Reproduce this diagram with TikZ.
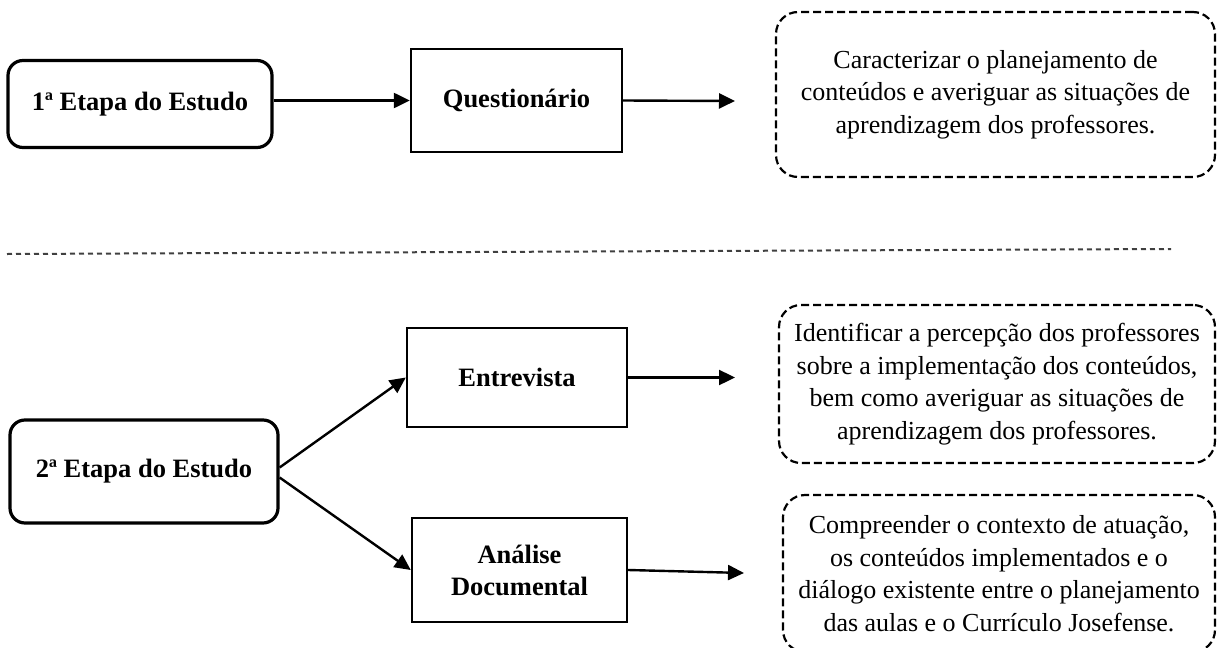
\documentclass[tikz,border=0pt]{standalone}
\usepackage{fontspec}
\setmainfont{Liberation Serif}
\usetikzlibrary{arrows.meta,calc}
\begin{document}
\begin{tikzpicture}[x=1pt,y=-1pt,
  stage/.style={draw, line width=3.2pt, rounded corners=15pt, inner sep=0pt,
    font=\fontsize{26.5}{32}\selectfont\bfseries, align=center},
  method/.style={draw, line width=2.4pt, inner sep=0pt,
    font=\fontsize{26.5}{32}\selectfont\bfseries, align=center},
  goal/.style={draw, line width=2.2pt, dash pattern=on 8pt off 4pt,
    rounded corners=22pt, inner sep=0pt,
    font=\fontsize{26}{32.5}\selectfont, align=center},
  flow/.style={line width=2.4pt, -{Triangle[length=16pt,width=15pt]}},
  divider/.style={line width=2pt, draw=black!75, dash pattern=on 5pt off 4pt}]

\clip (0,0) rectangle (1219,648);

% first stage
\node[stage, minimum width=264pt, minimum height=87pt] (s1) at (140,104) {1ª Etapa do Estudo};
\node[method, minimum width=211pt, minimum height=103pt] (q) at (516.5,100.5) {Questionário};
\node[goal, minimum width=439pt, minimum height=165pt] (g1) at (995.5,94.5)
  {Caracterizar o planejamento de\\conteúdos e averiguar as situações de\\aprendizagem dos professores.};
\coordinate (t1) at (735,101);

\draw[flow] (s1.east |- q.west) -- (q.west);
\draw[flow] (q.east) -- (t1);

% divider between the stages
\coordinate (l0) at (7,254);
\coordinate (l1) at (1171,249);
\draw[divider] (l0) -- (l1);

% second stage
\node[stage, minimum width=268pt, minimum height=103pt] (s2) at (144,471.5) {2ª Etapa do Estudo};
\node[method, minimum width=220pt, minimum height=99pt] (e) at (517,377.5) {Entrevista};
\node[method, minimum width=215pt, minimum height=104pt] (a) at (519.5,570) {Análise\\Documental};
\node[goal, minimum width=436pt, minimum height=158pt] (g2) at (997,384)
  {Identificar a percepção dos professores\\sobre a implementação dos conteúdos,\\bem como averiguar as situações de\\aprendizagem dos professores.};
\node[goal, minimum width=432pt, minimum height=157pt] (g3) at (999,573.5)
  {Compreender o contexto de atuação,\\os conteúdos implementados e o\\diálogo existente entre o planejamento\\das aulas e o Currículo Josefense.};
\coordinate (t2) at (735,377.5);
\coordinate (t3) at (744,573);

\draw[flow] ($(s2.east)+(0,-4)$) -- (e.west);
\draw[flow] ($(s2.east)+(0,6)$) -- (a.west);
\draw[flow] (e.east) -- (t2);
\draw[flow] (a.east) -- (t3);
\end{tikzpicture}
\end{document}
